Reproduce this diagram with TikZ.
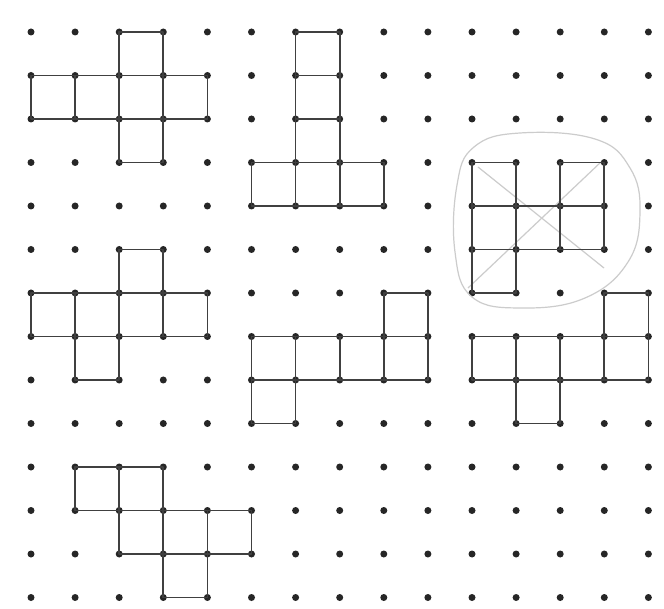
\documentclass[tikz,border=0pt]{standalone}
\begin{document}
\begin{tikzpicture}[x=1pt,y=-1pt,
  dot/.style={circle,fill=black!85,inner sep=0pt,minimum size=7pt},
  edge/.style={draw=black!75,line width=1.7pt,line join=round},
  faint/.style={draw=black!20,line width=1.2pt}]
\fill[white] (0,0) rectangle (664,609);
\useasboundingbox (0,0) rectangle (664,609);
% dot grid
\foreach \c in {0,...,14}{
  \foreach \r in {0,...,13}{
    \node[dot] (d-\c-\r) at ({31+44.1*\c},{32+43.5*\r}) {};
  }
}
% crossed-out net: circle and cross
\draw[faint] plot[smooth cycle, tension=0.7] coordinates {
  (520,133) (595,139) (630,168) (640,212) (628,262) (585,298)
  (522,308) (472,297) (455,252) (457,185) (474,147)};
\coordinate (xa) at (478,167);
\coordinate (xb) at (604,268);
\coordinate (xc) at (601,162);
\coordinate (xd) at (468,288);
\draw[faint] (xa) -- (xb);
\draw[faint] (xc) -- (xd);
% nets (each unit square given by its top-left grid index)
\foreach \c/\r in {
  2/0, 0/1, 1/1, 2/1, 3/1, 2/2,
  6/0, 6/1, 6/2, 5/3, 6/3, 7/3,
  10/3, 12/3, 10/4, 11/4, 12/4, 10/5,
  2/5, 0/6, 1/6, 2/6, 3/6, 1/7,
  8/6, 5/7, 6/7, 7/7, 8/7, 5/8,
  13/6, 10/7, 11/7, 12/7, 13/7, 11/8,
  1/10, 2/10, 2/11, 3/11, 4/11, 3/12}{
  \pgfmathtruncatemacro\cc{\c+1}
  \pgfmathtruncatemacro\rr{\r+1}
  \draw[edge] (d-\c-\r.center) -- (d-\cc-\r.center) -- (d-\cc-\rr.center) -- (d-\c-\rr.center) -- cycle;
}
\end{tikzpicture}
\end{document}
